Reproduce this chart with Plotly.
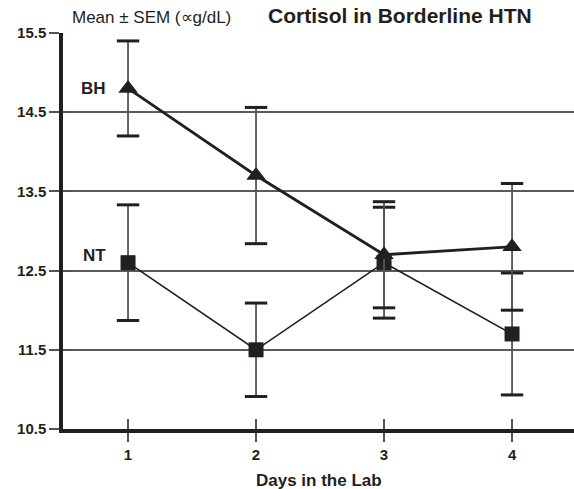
import plotly.graph_objects as go

days = [1, 2, 3, 4]
bh_mean = [14.8, 13.7, 12.7, 12.8]
bh_sem = [0.6, 0.86, 0.67, 0.8]
nt_mean = [12.6, 11.5, 12.6, 11.7]
nt_sem = [0.73, 0.59, 0.7, 0.77]
y_ticks = [10.5, 11.5, 12.5, 13.5, 14.5, 15.5]
x_ticks = [1, 2, 3, 4]

INK = "#231f20"
ERR = "#555555"
GRID = "#5a5a5a"
FONT = "Arial, Liberation Sans, Helvetica, sans-serif"
XR = [0.492, 4.484]
YR = [10.5, 15.5]

fig = go.Figure()


def add_series(mean, sem, symbol, msize, lw):
    # error stems
    fig.add_trace(go.Scatter(
        x=days, y=mean, mode="none",
        error_y=dict(type="data", array=sem, visible=True, color=ERR, thickness=1.8, width=0),
        showlegend=False, hoverinfo="skip",
    ))
    # caps
    caps_y = [m + s for m, s in zip(mean, sem)] + [m - s for m, s in zip(mean, sem)]
    fig.add_trace(go.Scatter(
        x=days + days, y=caps_y, mode="markers",
        marker=dict(symbol="line-ew", size=16, line=dict(color=INK, width=3)),
        showlegend=False, hoverinfo="skip",
    ))
    fig.add_trace(go.Scatter(
        x=days, y=mean, mode="lines+markers",
        line=dict(color=INK, width=lw),
        marker=dict(symbol=symbol, size=msize, color=INK),
        showlegend=False,
    ))


add_series(nt_mean, nt_sem, "square", 15, 1.6)
add_series(bh_mean, bh_sem, "triangle-up", 17, 2.8)

# invisible trace on overlay axes for the inside part of the crossing ticks
fig.add_trace(go.Scatter(x=days, y=nt_mean, xaxis="x2", yaxis="y2", mode="markers",
                         marker=dict(opacity=0), showlegend=False, hoverinfo="skip"))

fig.update_layout(
    width=574, height=489,
    margin=dict(l=63, r=0, t=33, b=60, autoexpand=False),
    paper_bgcolor="white", plot_bgcolor="white",
    font=dict(family=FONT, color=INK),
    xaxis=dict(
        range=XR, tickvals=x_ticks, ticktext=[str(v) for v in x_ticks],
        showgrid=False, zeroline=False, automargin=False,
        showline=True, linecolor=INK, linewidth=3.5,
        ticks="outside", ticklen=9, tickwidth=1.5, tickcolor="#555",
        tickfont=dict(size=15, weight="bold", color=INK, family=FONT),
    ),
    xaxis2=dict(
        range=XR, tickvals=x_ticks, overlaying="x", anchor="y",
        showgrid=False, zeroline=False, showline=False, showticklabels=False,
        ticks="inside", ticklen=10, tickwidth=1.5, tickcolor="#555", automargin=False,
    ),
    yaxis=dict(
        range=YR, tickvals=y_ticks, ticktext=[f"{v:.1f}" for v in y_ticks],
        showgrid=True, gridcolor=GRID, gridwidth=1.6, zeroline=False, automargin=False,
        showline=True, linecolor=INK, linewidth=3.5,
        ticks="outside", ticklen=10, tickwidth=1.6, tickcolor="#555",
        tickfont=dict(size=15, weight="bold", color=INK, family=FONT),
    ),
    yaxis2=dict(
        range=YR, tickvals=y_ticks, overlaying="y", anchor="x",
        showgrid=False, zeroline=False, showline=False, showticklabels=False,
        ticks="inside", ticklen=10, tickwidth=1.6, tickcolor="#555", automargin=False,
    ),
    annotations=[
        dict(text="Cortisol in Borderline HTN", xref="paper", yref="paper", x=0.66, y=1,
             yshift=18, xanchor="center", yanchor="middle", showarrow=False,
             font=dict(size=21, weight="bold", color=INK, family=FONT)),
        dict(text="Mean ± SEM (∝g/dL)", xref="paper", yref="paper", x=0.174, y=1,
             yshift=16, xanchor="center", yanchor="middle", showarrow=False,
             font=dict(size=17, color=INK, family=FONT)),
        dict(text="Days in the Lab", xref="paper", yref="paper", x=0.5, y=0,
             yshift=-51, xanchor="center", yanchor="middle", showarrow=False,
             font=dict(size=17, weight="bold", color=INK, family=FONT)),
        dict(text="BH", x=days[0], y=bh_mean[0], xanchor="right", yanchor="middle",
             xshift=-20, showarrow=False, font=dict(size=17, weight="bold", color=INK, family=FONT)),
        dict(text="NT", x=days[0], y=nt_mean[0], xanchor="right", yanchor="middle",
             xshift=-20, yshift=7, showarrow=False, font=dict(size=17, weight="bold", color=INK, family=FONT)),
    ],
)

fig.write_html("out.html", config={"displayModeBar": False},
               post_script="document.body.style.margin='0';document.body.style.overflow='hidden';")
